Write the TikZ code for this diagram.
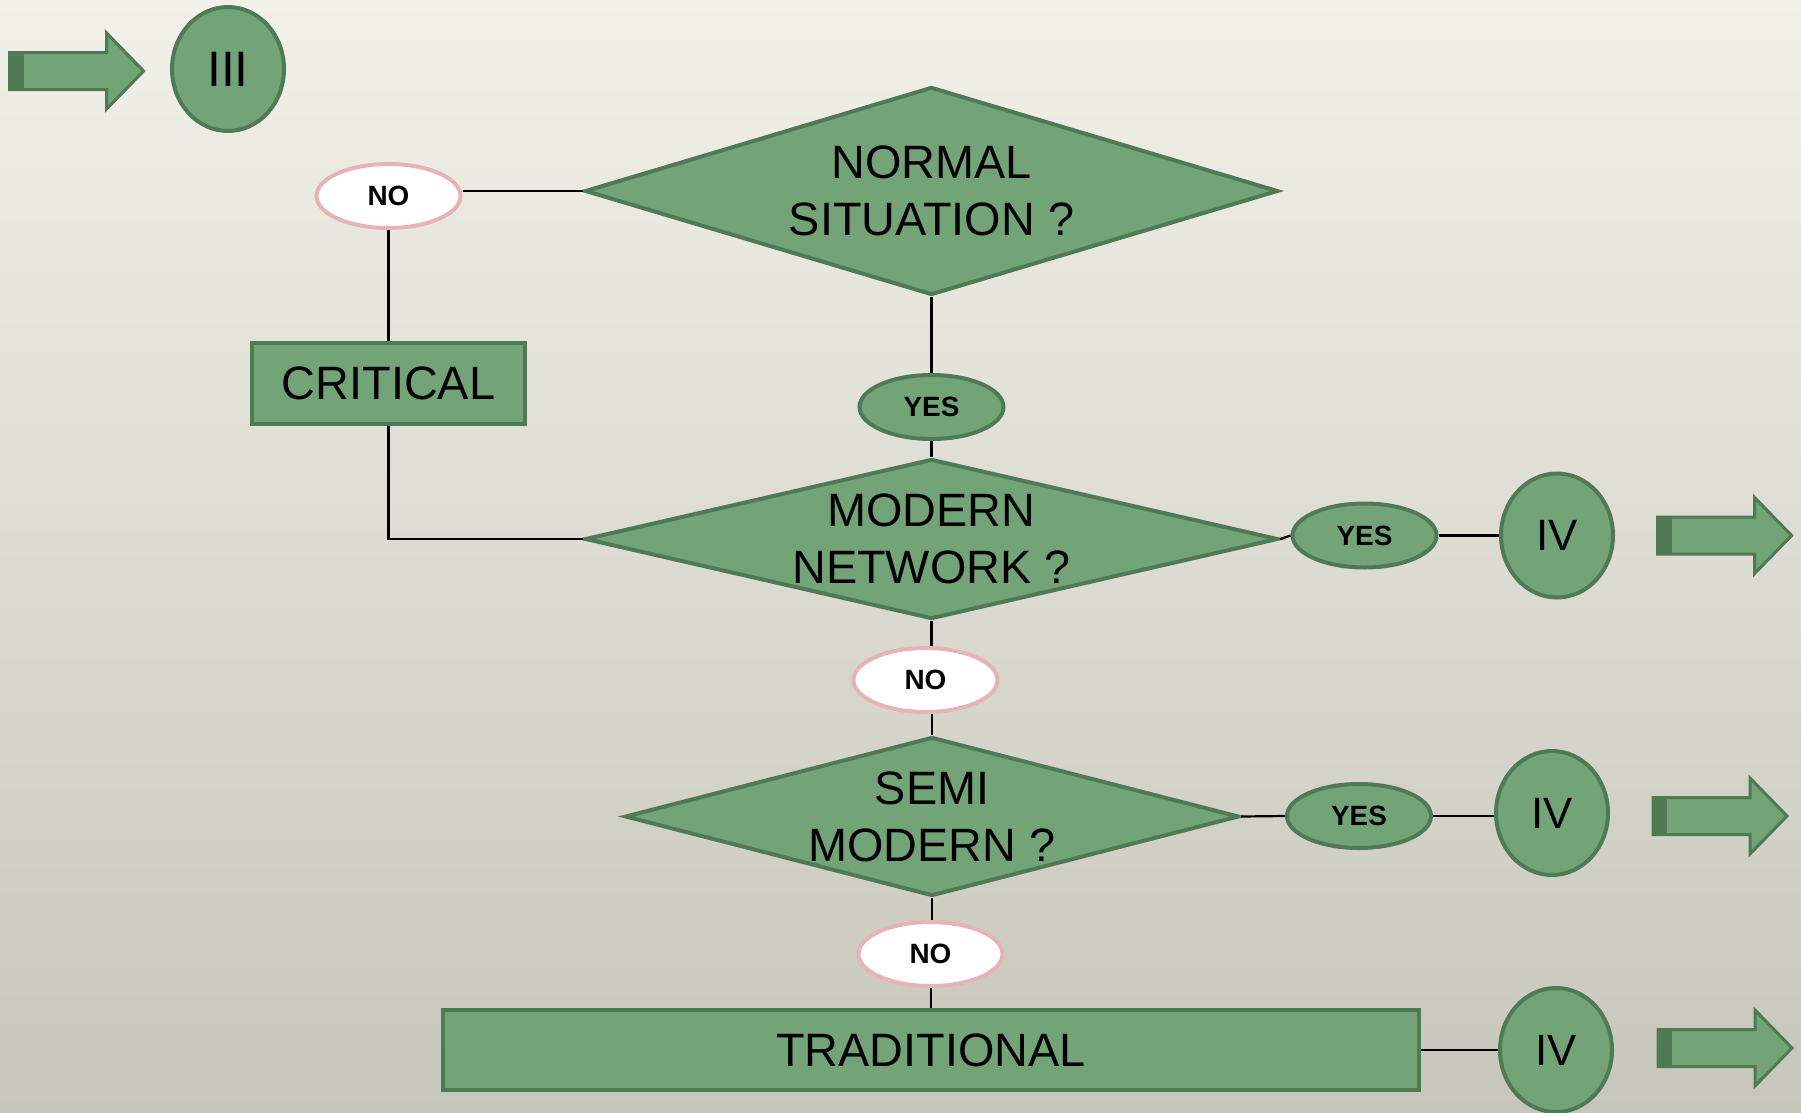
\documentclass[tikz,border=0pt]{standalone}
\usepackage{fontspec}
\setmainfont{Liberation Sans}
\usetikzlibrary{shapes.geometric}
\definecolor{bgtop}{RGB}{241,241,233}
\definecolor{bgbot}{RGB}{198,198,186}
\definecolor{gfill}{RGB}{114,164,120}
\definecolor{gline}{RGB}{80,122,86}
\definecolor{pinkline}{RGB}{230,180,182}
\tikzset{
 shapebase/.style={draw=gline, line width=4bp, fill=gfill, inner sep=0pt},
 diam/.style={shapebase, diamond},
 dtxt/.style={font=\fontsize{47}{57}\selectfont, align=center},
 boxn/.style={shapebase, rectangle, font=\fontsize{47}{57}\selectfont},
 romann/.style={shapebase, ellipse, minimum width=112bp, minimum height=124bp, font=\fontsize{44}{50}\selectfont},
 yesn/.style={shapebase, ellipse, minimum width=144bp, minimum height=64bp, font=\bfseries\fontsize{28}{30}\selectfont},
 non/.style={draw=pinkline, line width=4bp, fill=white, ellipse, inner sep=0pt, minimum width=144bp, minimum height=64bp, font=\bfseries\fontsize{28}{30}\selectfont},
 conn/.style={draw=black, line width=2.2bp},
 fatarrow/.pic={
  \draw[gline, line width=3bp, fill=gfill] (0,-18.5) -- (97,-18.5) -- (97,-38) -- (134,0) -- (97,38) -- (97,18.5) -- (0,18.5) -- cycle;
  \fill[gline] (0,-18.5) rectangle (14,18.5);
 }
}
\begin{document}
\begin{tikzpicture}[x=1bp,y=-1bp]
\shade[top color=bgtop, bottom color=bgbot] (0,0) rectangle (1801,1112);
\useasboundingbox (0,0) rectangle (1801,1112);

% arrows
\pic at (9.6,71) {fatarrow};
\pic at (1657.6,535.5) {fatarrow};
\pic at (1653,816) {fatarrow};
\pic at (1658,1048) {fatarrow};

% nodes
\node[romann, font=\fontsize{50}{56}\selectfont] (iii) at (228,69) {III};
\node[diam, minimum width=693bp, minimum height=208bp] (normal) at (931.5,191) {};
\node[dtxt] (normaltxt) at (normal.center) {NORMAL\\SITUATION ?};
\node[non] (no1) at (388.5,196) {NO};
\node[boxn, minimum width=273bp, minimum height=81bp] (crit) at (388.5,383.5) {CRITICAL};
\node[yesn] (yes1) at (931.5,407) {YES};
\node[diam, minimum width=693bp, minimum height=160bp] (modern) at (931.5,539) {};
\node[dtxt] (moderntxt) at (modern.center) {MODERN\\NETWORK ?};
\node[yesn] (yes2) at (1364.5,535.5) {YES};
\node[romann] (iv1) at (1557,535.5) {IV};
\node[non] (no2) at (925.5,680) {NO};
\node[diam, minimum width=614bp, minimum height=159bp] (semi) at (932,816.5) {};
\node[dtxt] (semitxt) at (semi.center) {SEMI\\MODERN ?};
\node[yesn] (yes3) at (1359,816) {YES};
\node[romann] (iv2) at (1552,813) {IV};
\node[non] (no3) at (930.5,954) {NO};
\node[boxn, minimum width=976bp, minimum height=80bp] (trad) at (931,1050) {TRADITIONAL};
\node[romann] (iv3) at (1556,1050) {IV};

% connectors
\draw[conn] (normal.west) -- (normal.west -| no1.east);
\draw[conn] (no1.south) -- (crit.north);
\draw[conn] (crit.south) |- (modern.west);
\draw[conn] (normal.south) -- (yes1.north);
\draw[conn] (yes1.south) -- (modern.north);
\draw[conn] (modern.east) -- (yes2.west);
\draw[conn] (yes2.east) -- (iv1.west);
\draw[conn] (modern.south) -- (modern.south |- no2.north);
\draw[conn] (no2.south -| semi.north) -- (semi.north);
\draw[conn] (semi.east) -- (yes3.west);
\draw[conn] (yes3.east) -- (iv2.west |- yes3.east);
\draw[conn] (semi.south) -- (semi.south |- no3.north);
\draw[conn] (no3.south -| trad.north) -- (trad.north);
\draw[conn] (trad.east) -- (iv3.west);
\end{tikzpicture}
\end{document}
